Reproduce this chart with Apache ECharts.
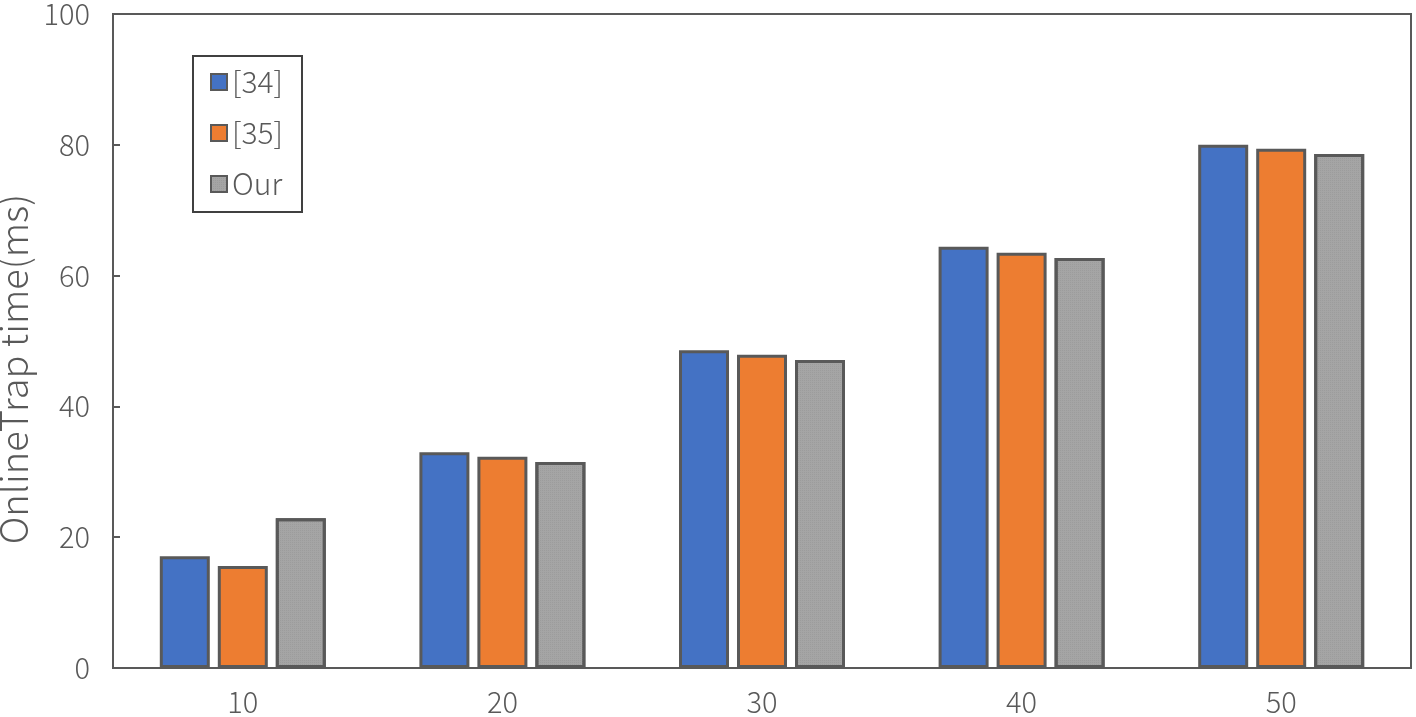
<!DOCTYPE html>
<html>
<head>
<meta charset="utf-8">
<script src="https://cdn.jsdelivr.net/npm/echarts@6/dist/echarts.min.js"></script>
<style>html,body{margin:0;padding:0;background:#fff;}#c{width:1416px;height:717px;}</style>
</head>
<body>
<div id="c"></div>
<script>
const categories = ['10', '20', '30', '40', '50'];
const seriesNames = ['[34]', '[35]', 'Our'];
const values34 = [17.1, 33.0, 48.6, 64.4, 80.0];
const values35 = [15.6, 32.3, 47.9, 63.5, 79.4];
const valuesOur = [22.9, 31.5, 47.1, 62.7, 78.6];
const yTicks = [0, 20, 40, 60, 80, 100];

const colors = ['#4472C4', '#ED7D31', '#A5A5A5'];
const txt = '#595959';
const font = '"Noto Sans CJK SC", "Noto Sans", sans-serif';
const chart = echarts.init(document.getElementById('c'));
const mk = (name, data, i) => ({
  name, type: 'bar', data, barWidth: 50, barGap: '16%',
  itemStyle: Object.assign({ color: colors[i], borderColor: '#595959', borderWidth: 3 },
    i === 2 ? { decal: { symbol: 'rect', symbolSize: 1, dashArrayX: [1, 1], dashArrayY: [1, 1], color: 'rgba(150,150,150,0.6)' } } : {})
});
chart.setOption({
  animation: false,
  textStyle: { fontFamily: font, fontWeight: 300 },
  grid: { left: 113, top: 14, right: 5, bottom: 49, show: true, borderColor: '#595959', borderWidth: 2, containLabel: false, outerBoundsMode: 'none' },
  legend: {
    orient: 'vertical', left: 193, top: 56, padding: [11, 19, 13, 17],
    borderColor: '#404040', borderWidth: 2, itemWidth: 16, itemHeight: 16, itemGap: 21,
    icon: 'rect',
    textStyle: { fontSize: 30, color: txt, fontFamily: font, fontWeight: 300 },
    data: seriesNames
  },
  xAxis: {
    type: 'category', data: categories,
    axisLine: { lineStyle: { color: '#595959', width: 2 } },
    axisTick: { show: false },
    axisLabel: { fontSize: 29, color: txt, margin: 19, fontWeight: 300 }
  },
  yAxis: {
    type: 'value', min: yTicks[0], max: yTicks[yTicks.length - 1], interval: 20,
    name: 'OnlineTrap time(ms)', nameLocation: 'middle', nameGap: 79,
    nameTextStyle: { fontSize: 38, color: txt, fontWeight: 300, padding: [0, 56, 0, 0] },
    axisLine: { show: true, lineStyle: { color: '#595959', width: 2 } },
    axisTick: { show: true, inside: true, length: 7, lineStyle: { color: '#595959', width: 2 } },
    splitLine: { show: false },
    axisLabel: { fontSize: 29, color: txt, margin: 23, fontWeight: 300 }
  },
  series: [mk(seriesNames[0], values34, 0), mk(seriesNames[1], values35, 1), mk(seriesNames[2], valuesOur, 2)]
});
</script>
</body>
</html>
